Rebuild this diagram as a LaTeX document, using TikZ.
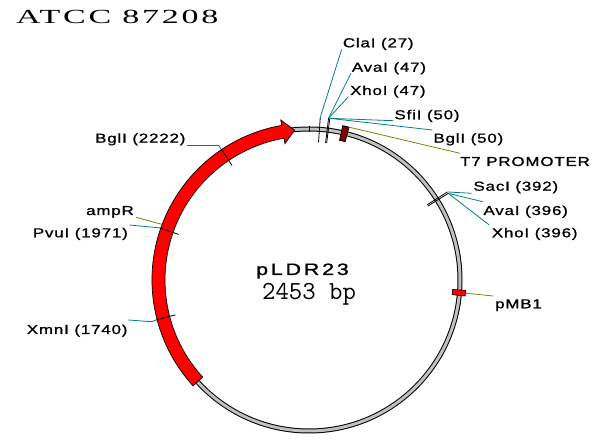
\documentclass[tikz,border=0pt]{standalone}
\usepackage{fontspec}
\usepackage{graphicx}
\setmainfont{Liberation Sans}
\newfontfamily\labfont[LetterSpace=5,FakeBold=1]{Liberation Sans}
\newfontfamily\ctrfont[LetterSpace=13,FakeBold=1]{Liberation Sans}
\newfontfamily\ttlfont[LetterSpace=8]{Liberation Serif}
\definecolor{ringgray}{RGB}{192,192,192}
\definecolor{siteline}{RGB}{0,128,128}
\definecolor{featline}{RGB}{128,128,0}
\definecolor{t7red}{RGB}{128,0,0}
\newcommand{\labtxt}[1]{\scalebox{1.3}[1]{\labfont\fontsize{13}{15}\selectfont #1}}
\begin{document}
\begin{tikzpicture}[x=1pt,y=-1pt,
  lab/.style={anchor=base west, inner sep=0pt},
  site/.style={draw=siteline, line width=0.8pt},
  feat/.style={draw=featline, line width=0.8pt},
  tickline/.style={draw=black, line width=0.8pt},
  band/.style={draw=black, line width=0.7pt},
]
\useasboundingbox (0,0) rectangle (600,443);
\coordinate (C) at (309,280);
% ring
\draw[black, line width=5pt] (C) circle[radius=151];
\draw[ringgray, line width=3pt] (C) circle[radius=151];
% ampR arrow
\path[band, fill=red] ([shift={(C)}]137.6:144) arc[start angle=137.6, end angle=260, radius=144]
  -- ([shift={(C)}]260:138.5) -- ([shift={(C)}]264.5:150.5) -- ([shift={(C)}]260:162.5)
  -- ([shift={(C)}]260:157) arc[start angle=260, end angle=137.6, radius=157] -- cycle;
% T7 promoter
\pgfmathsetmacro\ta{84*0.1467591-90}
\pgfmathsetmacro\tb{100*0.1467591-90}
\path[band, fill=t7red] ([shift={(C)}]\ta:143) arc[start angle=\ta, end angle=\tb, radius=143]
  -- ([shift={(C)}]\tb:158) arc[start angle=\tb, end angle=\ta, radius=158] -- cycle;
\coordinate (t7pt) at ([shift={(C)}]\tb:158);
% pMB1
\pgfmathsetmacro\pa{639*0.1467591-90}
\pgfmathsetmacro\pb{653*0.1467591-90}
\pgfmathsetmacro\pc{646*0.1467591-90}
\path[band, fill=red] ([shift={(C)}]\pa:144) arc[start angle=\pa, end angle=\pb, radius=144]
  -- ([shift={(C)}]\pb:157) arc[start angle=\pb, end angle=\pa, radius=157] -- cycle;
\coordinate (pmbpt) at ([shift={(C)}]\pc:157);
% ampR leader point
\pgfmathsetmacro\aa{1981*0.1467591-90}
\coordinate (amppt) at ([shift={(C)}]\aa:157);
% ticks
\foreach \n/\ri/\ro in {0/148/154, 27/138/163, 47/138/163, 50/138/163, 392/140/164, 396/140/164, 2222/138/158, 1971/138/158, 1740/138/158}{
  \pgfmathsetmacro\a{\n*0.1467591-90}
  \coordinate (ti\n) at ([shift={(C)}]\a:\ri);
  \coordinate (t\n) at ([shift={(C)}]\a:\ro);
  \draw[tickline] (ti\n) -- (t\n);
}
% title and centre
\node[anchor=base west, inner sep=0pt] (title) at (16,23.5) {\scalebox{1.7}[1]{\ttlfont\fontsize{20}{23}\selectfont ATCC 87208}};
\node[anchor=base west, inner sep=0pt] (pname) at (256,275) {\scalebox{1.3}[1]{\ctrfont\fontsize{16.5}{19}\selectfont pLDR23}};
\node[anchor=base west, inner sep=0pt] (psize) at (262,300) {\ttfamily\fontsize{26}{28}\selectfont 2453 bp};
% labels
\node[lab] (lcla) at (342.7,47.3) {\labtxt{ClaI (27)}};
\node[lab] (lava1) at (351.7,71.7) {\labtxt{AvaI (47)}};
\node[lab] (lxho1) at (350,95) {\labtxt{XhoI (47)}};
\node[lab] (lsfi) at (394.3,119.3) {\labtxt{SfiI (50)}};
\node[lab] (lbgl1) at (433.3,142.7) {\labtxt{BglI (50)}};
\node[lab] (lt7) at (460,166) {\labtxt{T7 PROMOTER}};
\node[lab] (lsac) at (473.3,190.7) {\labtxt{SacI (392)}};
\node[lab] (lava2) at (483.3,215) {\labtxt{AvaI (396)}};
\node[lab] (lxho2) at (491.7,237.3) {\labtxt{XhoI (396)}};
\node[lab] (lpmb) at (495,308.3) {\labtxt{pMB1}};
\node[lab] (lbgl2) at (95,142.7) {\labtxt{BglI (2222)}};
\node[lab] (lamp) at (86,215) {\labtxt{ampR}};
\node[lab] (lpvu) at (32.7,237.3) {\labtxt{PvuI (1971)}};
\node[lab] (lxmn) at (26.7,334) {\labtxt{XmnI (1740)}};
% leader end points near labels
\coordinate (ecla) at (341.7,49.3);
\coordinate (eava1) at (351,73.3);
\coordinate (exho1) at (348.3,96.7);
\coordinate (esfi) at (393.3,120.7);
\coordinate (ebgl1) at (432.3,130);
\coordinate (et7) at (460,153.3);
\coordinate (esac) at (471.7,193.3);
\coordinate (eava2) at (482.7,201.7);
\coordinate (exho2) at (489.3,225);
\coordinate (epmb) at (493.3,296);
\coordinate (ebgl2) at (186.7,145.5);
\coordinate (kbgl2) at (219,145.5);
\coordinate (eamp) at (136,217.3);
\coordinate (epvu) at (129.3,225);
\coordinate (exmn) at (128.3,320);
\coordinate (kxmn) at (151.7,321.7);
% leaders
\draw[site] (t27) -- (ecla);
\draw[site] (t47) -- (eava1);
\draw[site] (t47) -- (exho1);
\draw[site] (t50) -- (esfi);
\draw[site] (t50) -- (ebgl1);
\draw[feat] (t7pt) -- (et7);
\draw[site] (t392) -- (esac);
\draw[site] (t396) -- (eava2);
\draw[site] (t396) -- (exho2);
\draw[feat] (pmbpt) -- (epmb);
\draw[site] (ebgl2) -- (kbgl2) -- (t2222);
\draw[feat] (amppt) -- (eamp);
\draw[site] (t1971) -- (epvu);
\draw[site] (exmn) -- (kxmn) -- (t1740);
\end{tikzpicture}
\end{document}
